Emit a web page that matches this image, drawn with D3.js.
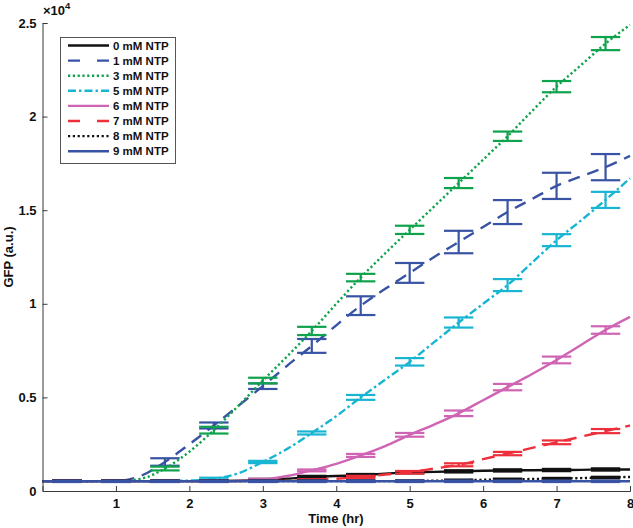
<!DOCTYPE html>
<html>
<head>
<meta charset="utf-8">
<script src="https://cdn.jsdelivr.net/npm/d3@7"></script>
<style>
  html, body { margin: 0; padding: 0; background: #fff; }
  svg { display: block; }
  text { font-family: "Liberation Sans", Arial, Helvetica, sans-serif; font-weight: bold; }
</style>
</head>
<body>
<svg id="chart" width="633" height="528"></svg>
<script>
// ---- data (GFP in units of 1e4) ----
const times = [0, 0.333, 0.667, 1, 1.333, 1.667, 2, 2.333, 2.667, 3, 3.333, 3.667, 4,
               4.333, 4.667, 5, 5.333, 5.667, 6, 6.333, 6.667, 7, 7.333, 7.667, 8];
const errTimes = [0.333, 1, 1.667, 2.333, 3, 3.667, 4.333, 5, 5.667, 6.333, 7, 7.667];

const seriesNames = ["0 mM NTP", "1 mM NTP", "3 mM NTP", "5 mM NTP", "6 mM NTP", "7 mM NTP", "8 mM NTP", "9 mM NTP"];

const ntp0 = [0.053, 0.053, 0.053, 0.053, 0.053, 0.053, 0.053, 0.053, 0.055, 0.060, 0.066, 0.075, 0.080,
              0.085, 0.092, 0.100, 0.102, 0.105, 0.108, 0.110, 0.111, 0.112, 0.113, 0.115, 0.115];
const ntp1 = [0.053, 0.053, 0.053, 0.053, 0.080, 0.155, 0.250, 0.350, 0.455, 0.560, 0.670, 0.775, 0.885,
              0.990, 1.080, 1.165, 1.250, 1.330, 1.410, 1.490, 1.560, 1.630, 1.680, 1.730, 1.790];
const ntp3 = [0.053, 0.053, 0.053, 0.053, 0.065, 0.120, 0.210, 0.325, 0.455, 0.590, 0.720, 0.855, 1.000,
              1.140, 1.270, 1.395, 1.520, 1.645, 1.770, 1.895, 2.030, 2.160, 2.275, 2.390, 2.490];
const ntp5 = [0.053, 0.053, 0.053, 0.053, 0.053, 0.053, 0.056, 0.065, 0.095, 0.155, 0.225, 0.310, 0.400,
              0.500, 0.595, 0.690, 0.795, 0.900, 1.000, 1.100, 1.220, 1.340, 1.445, 1.555, 1.670];
const ntp6 = [0.053, 0.053, 0.053, 0.053, 0.053, 0.053, 0.053, 0.053, 0.054, 0.060, 0.080, 0.110, 0.145,
              0.190, 0.240, 0.300, 0.355, 0.415, 0.485, 0.555, 0.625, 0.700, 0.780, 0.860, 0.930];
const ntp7 = [0.053, 0.053, 0.053, 0.053, 0.053, 0.053, 0.053, 0.053, 0.053, 0.053, 0.054, 0.058, 0.065,
              0.075, 0.088, 0.100, 0.120, 0.140, 0.170, 0.200, 0.230, 0.260, 0.290, 0.320, 0.350];
const ntp8 = [0.053, 0.053, 0.053, 0.053, 0.053, 0.053, 0.053, 0.053, 0.053, 0.053, 0.053, 0.053, 0.053,
              0.053, 0.053, 0.053, 0.055, 0.057, 0.060, 0.062, 0.064, 0.066, 0.069, 0.072, 0.075];
const ntp9 = [0.052, 0.052, 0.052, 0.052, 0.052, 0.052, 0.052, 0.052, 0.052, 0.052, 0.052, 0.052, 0.052,
              0.052, 0.052, 0.052, 0.052, 0.052, 0.052, 0.052, 0.052, 0.052, 0.052, 0.052, 0.052];

// error bar centers and half-ranges at errTimes
const ntp0Mean = [0.053, 0.053, 0.053, 0.053, 0.060, 0.075, 0.085, 0.100, 0.105, 0.110, 0.112, 0.115];
const ntp0Err  = [0.004, 0.004, 0.004, 0.004, 0.005, 0.006, 0.006, 0.006, 0.006, 0.006, 0.006, 0.006];
const ntp1Mean = [0.053, 0.053, 0.155, 0.350, 0.560, 0.775, 0.990, 1.165, 1.330, 1.490, 1.630, 1.730];
const ntp1Err  = [0.004, 0.004, 0.020, 0.016, 0.015, 0.037, 0.050, 0.053, 0.060, 0.064, 0.070, 0.070];
const ntp3Mean = [0.053, 0.053, 0.120, 0.325, 0.590, 0.855, 1.140, 1.395, 1.645, 1.895, 2.160, 2.390];
const ntp3Err  = [0.004, 0.004, 0.010, 0.018, 0.015, 0.022, 0.020, 0.022, 0.027, 0.025, 0.030, 0.035];
const ntp5Mean = [0.053, 0.053, 0.053, 0.065, 0.155, 0.310, 0.500, 0.690, 0.900, 1.100, 1.340, 1.555];
const ntp5Err  = [0.004, 0.004, 0.004, 0.006, 0.006, 0.008, 0.013, 0.020, 0.027, 0.032, 0.032, 0.043];
const ntp6Mean = [0.053, 0.053, 0.053, 0.053, 0.060, 0.110, 0.190, 0.300, 0.415, 0.555, 0.700, 0.860];
const ntp6Err  = [0.004, 0.004, 0.004, 0.004, 0.005, 0.005, 0.008, 0.010, 0.015, 0.017, 0.018, 0.020];
const ntp7Mean = [0.053, 0.053, 0.053, 0.053, 0.053, 0.058, 0.075, 0.100, 0.140, 0.200, 0.260, 0.320];
const ntp7Err  = [0.004, 0.004, 0.004, 0.004, 0.004, 0.005, 0.006, 0.007, 0.008, 0.009, 0.010, 0.011];
const ntp8Mean = [0.053, 0.053, 0.053, 0.053, 0.053, 0.053, 0.053, 0.053, 0.057, 0.062, 0.066, 0.072];
const ntp8Err  = [0.004, 0.004, 0.004, 0.004, 0.004, 0.004, 0.004, 0.004, 0.004, 0.004, 0.004, 0.004];
const ntp9Mean = [0.052, 0.052, 0.052, 0.052, 0.052, 0.052, 0.052, 0.052, 0.052, 0.052, 0.052, 0.052];
const ntp9Err  = [0.004, 0.004, 0.004, 0.004, 0.004, 0.004, 0.004, 0.004, 0.004, 0.004, 0.004, 0.004];

const xTicks = [1, 2, 3, 4, 5, 6, 7, 8];
const yTicks = [0, 0.5, 1, 1.5, 2, 2.5];
const yTickLabels = ["0", "0.5", "1", "1.5", "2", "2.5"];

// ---- styles ----
const styles = [
  { color: "#111111", dash: null },
  { color: "#3953a4", dash: "12,8" },
  { color: "#0fa24c", dash: "2.2,2.6" },
  { color: "#18b5d3", dash: "8,3,2.5,3" },
  { color: "#d064b4", dash: null },
  { color: "#ec2f3b", dash: "13,8" },
  { color: "#111111", dash: "2.2,2.6" },
  { color: "#3953a4", dash: null }
];
const lineData = [ntp0, ntp1, ntp3, ntp5, ntp6, ntp7, ntp8, ntp9];
const meanData = [ntp0Mean, ntp1Mean, ntp3Mean, ntp5Mean, ntp6Mean, ntp7Mean, ntp8Mean, ntp9Mean];
const errData  = [ntp0Err, ntp1Err, ntp3Err, ntp5Err, ntp6Err, ntp7Err, ntp8Err, ntp9Err];

const svg = d3.select("#chart");
const plotLeft = 42.5, plotRight = 630, plotTop = 23, plotBottom = 491;
const x = d3.scaleLinear().domain([0, 8]).range([plotLeft, plotRight]);
const y = d3.scaleLinear().domain([0, 2.5]).range([plotBottom, plotTop]);

const axisColor = "#3a3a3a";

// plot series
const line = d3.line().x((d, i) => x(times[i])).y(d => y(d)).curve(d3.curveMonotoneX);
const capHalf = 0.2; // hr

lineData.forEach((vals, s) => {
  const st = styles[s];
  const g = svg.append("g");
  g.append("path")
    .attr("d", line(vals))
    .attr("fill", "none")
    .attr("stroke", st.color)
    .attr("stroke-width", 2.4)
    .attr("stroke-dasharray", st.dash);
  const eb = g.selectAll(".eb").data(errTimes.map((t, i) => ({ t, m: meanData[s][i], e: errData[s][i] })))
    .enter().append("g");
  eb.append("line")
    .attr("x1", d => x(d.t)).attr("x2", d => x(d.t))
    .attr("y1", d => y(d.m - d.e)).attr("y2", d => y(d.m + d.e))
    .attr("stroke", st.color).attr("stroke-width", 2.2);
  [-1, 1].forEach(sg => {
    eb.append("line")
      .attr("x1", d => x(d.t - capHalf)).attr("x2", d => x(d.t + capHalf))
      .attr("y1", d => y(d.m + sg * d.e)).attr("y2", d => y(d.m + sg * d.e))
      .attr("stroke", st.color).attr("stroke-width", 2.2);
  });
});

// axes
const xAxis = d3.axisBottom(x).tickValues(xTicks).tickSize(-5).tickPadding(8).tickFormat(d3.format("d"));
const gx = svg.append("g").attr("transform", `translate(0,${plotBottom})`).call(xAxis);
const yAxis = d3.axisLeft(y).tickValues(yTicks).tickSize(-5).tickPadding(6).tickFormat((d, i) => yTickLabels[i]);
const gy = svg.append("g").attr("transform", `translate(${plotLeft},0)`).call(yAxis);
[gx, gy].forEach(g => {
  g.select(".domain").attr("stroke", axisColor).attr("stroke-width", 1);
  g.selectAll(".tick line").attr("stroke", axisColor).attr("stroke-width", 1);
  g.selectAll(".tick text").attr("fill", "#111").style("font-size", "13px")
    .style("font-family", '"Liberation Sans", Arial, sans-serif').style("font-weight", "bold");
});
gy.select(".tick:first-of-type line").remove();

// multiplier
const mult = svg.append("text").attr("x", 43).attr("y", 15).attr("fill", "#111").style("font-size", "13px");
mult.append("tspan").text("×10");
mult.append("tspan").attr("dy", -6).style("font-size", "9.5px").text("4");

// axis labels
svg.append("text").attr("x", 336).attr("y", 523).attr("text-anchor", "middle")
  .attr("fill", "#111").style("font-size", "13px").text("Time (hr)");
svg.append("text").attr("transform", "translate(13,257) rotate(-90)").attr("text-anchor", "middle")
  .attr("fill", "#111").style("font-size", "13px").text("GFP (a.u.)");

// legend
const lg = svg.append("g");
lg.append("rect").attr("x", 60.5).attr("y", 37.5).attr("width", 115).attr("height", 126)
  .attr("fill", "#fff").attr("stroke", "#555").attr("stroke-width", 1);
seriesNames.forEach((name, i) => {
  const yy = 45.5 + i * 15.1;
  lg.append("line").attr("x1", 68).attr("x2", 109).attr("y1", yy).attr("y2", yy)
    .attr("stroke", styles[i].color).attr("stroke-width", 2.4)
    .attr("stroke-dasharray", (i === 1 || i === 5) ? "12,17" : styles[i].dash);
  lg.append("text").attr("x", 113).attr("y", yy + 4).attr("fill", "#111")
    .style("font-size", "11.5px").text(name);
});
</script>
</body>
</html>
